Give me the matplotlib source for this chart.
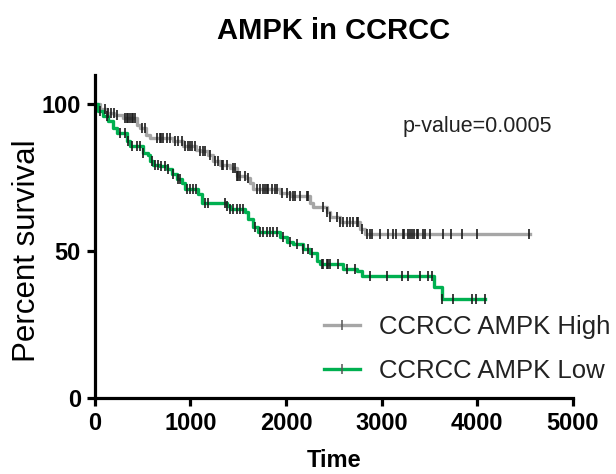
import matplotlib
matplotlib.use("Agg")
import matplotlib.pyplot as plt
import numpy as np

plt.rcParams["font.family"] = ["Liberation Sans", "DejaVu Sans"]

# Kaplan-Meier steps: time of each drop and survival (%) after it
high_times = [0, 50, 122, 200, 296, 436, 470, 540, 575, 820, 925, 1063, 1098,
              1185, 1238, 1307, 1412, 1482, 1586, 1621, 1656, 1935, 2040, 2249,
              2284, 2423, 2458, 2563, 2772, 2824, 4550]
high_surv = [100, 98.5, 97.1, 96.3, 95.4, 93.1, 92.0, 89.7, 88.6, 87.5, 85.8,
             84.6, 84.1, 82.9, 80.7, 79.5, 78.4, 75.6, 75.0, 73.3, 71.1, 69.9,
             68.8, 66.5, 64.9, 63.2, 61.5, 59.8, 57.6, 55.9, 55.9]
high_censor = [104, 139, 174, 199, 227, 314, 331, 349, 366, 384, 401, 418, 488,
               523, 645, 680, 697, 715, 750, 785, 837, 872, 907, 941, 976, 994,
               1011, 1046, 1098, 1133, 1151, 1203, 1255, 1290, 1325, 1342, 1377,
               1447, 1464, 1482, 1499, 1517, 1569, 1604, 1691, 1726, 1761, 1778,
               1796, 1813, 1848, 1883, 1900, 1953, 2005, 2040, 2075, 2092, 2144,
               2214, 2232, 2388, 2423, 2458, 2528, 2563, 2598, 2633, 2668, 2702,
               2737, 2755, 2790, 2842, 2877, 2894, 2981, 3068, 3120, 3155, 3218,
               3232, 3277, 3295, 3319, 3340, 3365, 3382, 3434, 3452, 3504, 3642,
               3730, 3835, 3992, 4542]

low_times = [0, 35, 87, 140, 192, 227, 331, 366, 505, 558, 575, 610, 680, 750,
             802, 854, 907, 941, 1081, 1116, 1377, 1412, 1569, 1604, 1656, 1708,
             1935, 2005, 2075, 2179, 2249, 2319, 2354, 2597, 2737, 2790, 3550,
             3627, 4080]
low_surv = [100, 97.6, 95.9, 94.2, 92.0, 90.3, 87.5, 85.8, 83.5, 82.9, 80.7,
            79.5, 79.0, 77.9, 76.2, 74.5, 73.3, 71.1, 69.4, 66.5, 65.4, 64.5,
            63.2, 60.9, 58.1, 56.4, 54.7, 53.0, 52.4, 50.7, 49.5, 46.7, 45.6,
            43.9, 43.3, 41.5, 37.9, 33.9, 33.9]
low_censor = [52, 122, 261, 314, 349, 384, 436, 471, 506, 593, 628, 663, 697,
              732, 767, 820, 872, 889, 959, 994, 1029, 1063, 1151, 1186, 1360,
              1377, 1412, 1447, 1482, 1517, 1552, 1674, 1726, 1761, 1796, 1831,
              1866, 1900, 1970, 2040, 2110, 2179, 2232, 2267, 2371, 2388, 2423,
              2441, 2458, 2546, 2633, 2720, 2877, 3051, 3208, 3277, 3400, 3487,
              3522, 3633, 3741, 3946, 3985, 4080]

groups = ["CCRCC AMPK High", "CCRCC AMPK Low"]
p_text = "p-value=0.0005"


def surv_at(times, surv, t):
    idx = np.searchsorted(times, t, side="right") - 1
    return np.asarray(surv)[idx]


fig = plt.figure(figsize=(6.16, 4.74), dpi=100)
ax = fig.add_axes([0.154, 0.160, 0.776, 0.682])

series = [
    (high_times, high_surv, high_censor, "#a6a6a6"),
    (low_times, low_surv, low_censor, "#00b050"),
]
for (t, s, c, col), name in zip(series, groups):
    ax.step(t, s, where="post", color=col, lw=2.4, zorder=2)
    ax.plot(c, surv_at(t, s, c), ls="none", marker="|", ms=7, mew=1.2,
            color="#1a1a1a", zorder=3)
    ax.plot([], [], color=col, lw=2.4, marker="|", ms=7, mew=1.1,
            mec="#555555", label=name)

ax.set_xlim(0, 5000)
ax.set_ylim(0, 110)
ax.set_xticks([0, 1000, 2000, 3000, 4000, 5000])
ax.set_yticks([0, 50, 100])
for side in ("top", "right"):
    ax.spines[side].set_visible(False)
for side in ("left", "bottom"):
    ax.spines[side].set_linewidth(2.3)
ax.tick_params(width=2.3, length=6, labelsize=17, pad=4)
for lab in ax.get_xticklabels() + ax.get_yticklabels():
    lab.set_fontweight("bold")

ax.set_xlabel("Time", fontsize=17, fontweight="bold", labelpad=10)
ax.set_ylabel("Percent survival", fontsize=22.5)
ax.yaxis.set_label_coords(-0.11, 0.455)
ax.set_title("AMPK in CCRCC", fontsize=21, fontweight="bold", pad=26)

ax.text(3220, 92.5, p_text, fontsize=15.5, va="center", ha="left",
        color="#222222")

leg = ax.legend(loc="upper left", bbox_to_anchor=(0.458, 0.29), frameon=False,
                fontsize=18.5, handlelength=1.4, handletextpad=0.75,
                labelspacing=0.78, borderaxespad=0)
for txt in leg.get_texts():
    txt.set_color("#222222")
leg.set_clip_on(False)

fig.savefig("out.png", dpi=100)
